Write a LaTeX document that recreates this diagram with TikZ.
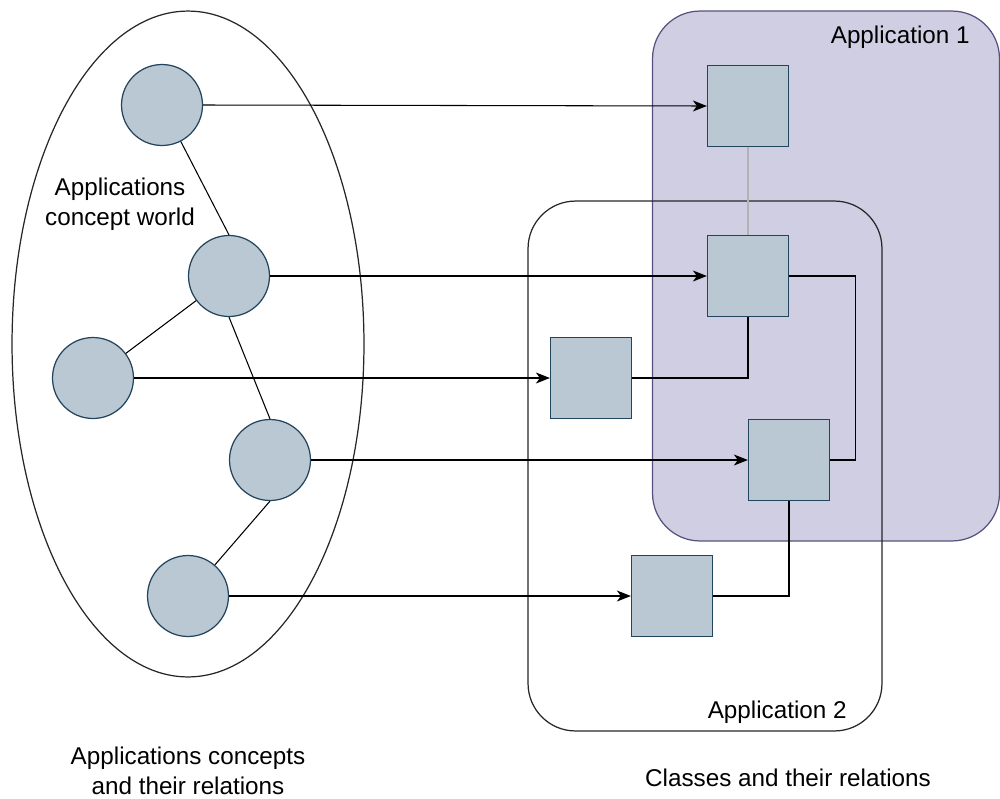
\documentclass[tikz,border=0pt]{standalone}
\usepackage{fontspec}
\setmainfont{Liberation Sans}
\usetikzlibrary{arrows.meta, positioning, shapes.geometric}
\definecolor{itemFill}{HTML}{BAC8D3}
\definecolor{itemLine}{HTML}{23445D}
\definecolor{appFill}{HTML}{D0CEE2}
\definecolor{appLine}{HTML}{56517E}
\definecolor{linkGrey}{HTML}{B3B3B3}

\begin{document}
\begin{tikzpicture}[x=0.02cm, y=-0.02cm,
   concept/.style={circle, draw=itemLine, fill=itemFill, line width=0.7pt,
                   minimum size=1.62cm, inner sep=0pt},
   cls/.style={rectangle, draw=itemLine, fill=itemFill, line width=0.7pt,
               minimum size=1.62cm, inner sep=0pt},
   app/.style={rectangle, rounded corners=0.95cm, line width=0.7pt,
               minimum width=7cm, minimum height=10.6cm, inner sep=0pt},
   lbl/.style={font=\fontsize{13.8}{16.6}\selectfont, align=center,
               inner sep=0pt},
   flow/.style={-{Stealth[length=2.8mm, width=2.2mm, inset=0.8mm]},
                line width=0.6pt}]
\useasboundingbox (0,0) rectangle (1000,798);

% the two applications
\node[app, draw=appLine, fill=appFill, minimum width=6.94cm] (app1) at (826,276) {};
\node[app, draw=black!85, minimum width=7.08cm] (app2) at (705,466) {};
\node[lbl, anchor=base east] (app1lbl) at (970,43) {Application 1};
\node[lbl, anchor=base east] (app2lbl) at (847,718) {Application 2};

% concept world
\node[ellipse, draw=black!85, line width=0.7pt, inner sep=0pt,
      minimum width=7.04cm, minimum height=13.32cm] (world) at (188,344) {};
\node[lbl, anchor=north] (worldlbl) at (120,178) {Applications\\concept world};

\node[concept] (c1) at (162,105) {};
\node[concept] (c2) at (229,276) {};
\node[concept] (c3) at (93,378) {};
\node[concept] (c4) at (270,460) {};
\node[concept] (c5) at (188,596) {};

\draw[line width=0.6pt] (c1) -- (c2.north);
\draw[line width=0.6pt] (c2) -- (c3);
\draw[line width=0.6pt] (c2.south) -- (c4.north);
\draw[line width=0.6pt] (c4.south) -- (c5);

% classes
\node[cls] (s1) at (748,106) {};
\node[cls] (s2) at (748,276) {};
\node[cls] (s3) at (591,378) {};
\node[cls] (s4) at (789,460) {};
\node[cls] (s5) at (672,596) {};

\draw[linkGrey, line width=0.6pt] (s1) -- (s2);
\draw[line width=0.6pt] (s3.east) -| (s2.south);
\draw[line width=0.6pt] (s2.east) -- ++(66,0) |- (s4.east);
\draw[line width=0.6pt] (s5.east) -| (s4.south);

\foreach \c/\s in {c1/s1, c2/s2, c3/s3, c4/s4, c5/s5}
  \draw[flow] (\c.east) -- (\s.west);

\node[lbl, anchor=north] (conceptsLbl) at (188,747)
  {Applications concepts\\and their relations};
\node[lbl, anchor=base] (classesLbl) at (788,786) {Classes and their relations};
\end{tikzpicture}
\end{document}
